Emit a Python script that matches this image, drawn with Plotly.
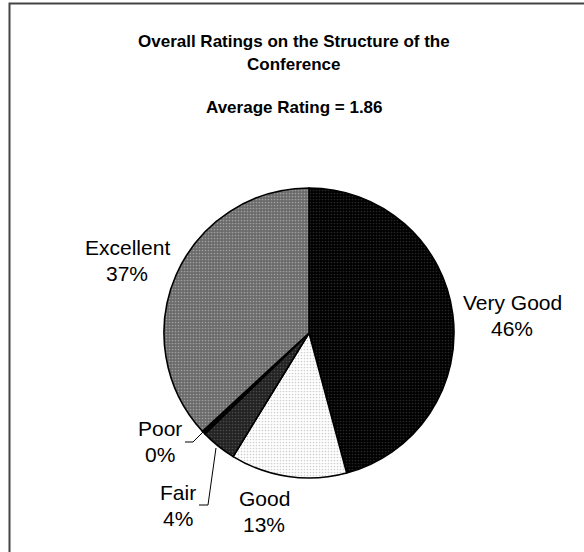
import plotly.graph_objects as go

W, H = 584, 552

labels = ["Very Good", "Good", "Fair", "Poor", "Excellent"]
values = [46, 13, 4, 0.4, 37]
pct_text = ["46%", "13%", "4%", "0%", "37%"]

bg_colors = ["#000000", "#ffffff", "#222222", "#000000", "#6a6a6a"]
dot_colors = ["#262626", "#cfcfcf", "#4a4a4a", "#000000", "#a0a0a0"]

# label centres (pixels) for each slice, first line
label_pos = {
    "Very Good": (512, 302),
    "Good": (264, 498),
    "Fair": (178, 492),
    "Poor": (160, 428),
    "Excellent": (127, 247),
}


def px(x, y):
    return x / W, 1 - y / H


fig = go.Figure()

cx, cy, r = 309, 333, 145
x0, y0 = px(cx - r, cy + r)
x1, y1 = px(cx + r, cy - r)

fig.add_trace(go.Pie(
    labels=labels,
    values=values,
    sort=False,
    direction="clockwise",
    rotation=0,
    textinfo="none",
    hoverinfo="label+percent",
    domain=dict(x=[x0, x1], y=[y0, y1]),
    marker=dict(
        colors=bg_colors,
        line=dict(color="#000000", width=1.6),
        pattern=dict(
            shape=[".", ".", ".", "", "."],
            fgcolor=dot_colors,
            bgcolor=bg_colors,
            fillmode="replace",
            size=3,
            solidity=0.25,
        ),
    ),
    showlegend=False,
))

font_lbl = dict(family="Liberation Sans, Arial", size=21, color="#000000")
for lab, pct in zip(labels, pct_text):
    lx, ly = label_pos[lab]
    ax, ay = px(lx, ly)
    fig.add_annotation(x=ax, y=ay, xref="paper", yref="paper", text=lab,
                       showarrow=False, font=font_lbl, xanchor="center", yanchor="middle")
    ax, ay = px(lx, ly + 26)
    fig.add_annotation(x=ax, y=ay, xref="paper", yref="paper", text=pct,
                       showarrow=False, font=font_lbl, xanchor="center", yanchor="middle")

font_title = dict(family="Liberation Sans, Arial", size=17, color="#000000")
for txt, ty in [("<b>Overall Ratings on the Structure of the</b>", 41),
                ("<b>Conference</b>", 65),
                ("<b>Average Rating = 1.86</b>", 108)]:
    ax, ay = px(294, ty)
    fig.add_annotation(x=ax, y=ay, xref="paper", yref="paper", text=txt,
                       showarrow=False, font=font_title, xanchor="center", yanchor="middle")


def path(points):
    s = ""
    for i, (x, y) in enumerate(points):
        u, v = px(x, y)
        s += ("M" if i == 0 else "L") + f"{u:.5f},{v:.5f} "
    return s.strip()


# leader lines for the small slices
fig.add_shape(type="path", xref="paper", yref="paper",
              path=path([(185, 442), (193, 442), (203, 432)]),
              line=dict(color="#000000", width=1))
fig.add_shape(type="path", xref="paper", yref="paper",
              path=path([(199, 505), (208, 505), (216, 448)]),
              line=dict(color="#000000", width=1))

# chart frame (right and bottom edges fall outside the picture)
bx0, by0 = px(9.5, 3.5)
bx1, by1 = px(W + 10, H + 10)
fig.add_shape(type="rect", xref="paper", yref="paper",
              x0=bx0, y0=by1, x1=bx1, y1=by0,
              line=dict(color="#444444", width=2))

fig.update_layout(
    width=W, height=H,
    margin=dict(l=0, r=0, t=0, b=0),
    paper_bgcolor="#ffffff",
    plot_bgcolor="#ffffff",
)

# drop the default page margin so the figure sits at the window corner
fig.write_html("out.html", config={"displayModeBar": False},
               post_script="document.body.style.margin='0px';")
